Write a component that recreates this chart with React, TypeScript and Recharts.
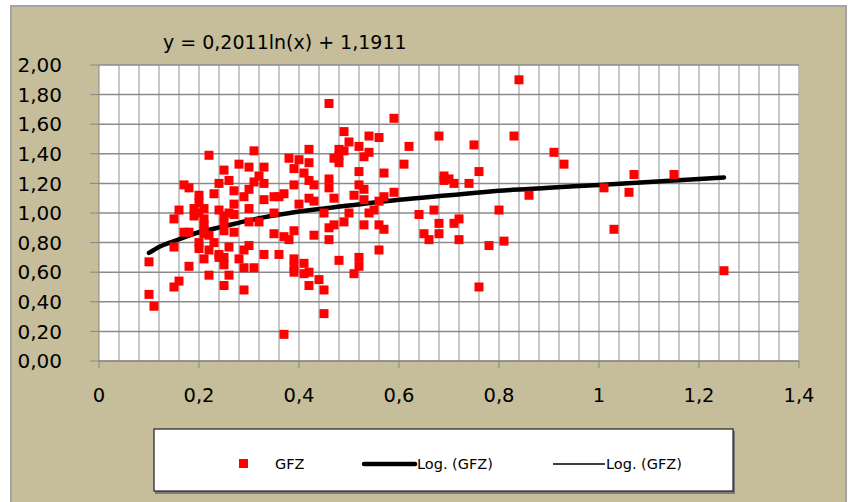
import React from 'react';
import { ComposedChart, Scatter, Line, XAxis, YAxis, CartesianGrid } from 'recharts';

const gfzX = [
  0.22, 0.31, 0.28, 0.25, 0.30, 0.33, 0.26, 0.24, 0.32, 0.33, 0.31, 0.17, 0.18, 0.23, 0.27, 0.30,
  0.29, 0.20, 0.33, 0.27, 0.16, 0.19, 0.21, 0.24, 0.30, 0.15, 0.19, 0.21, 0.25, 0.27, 0.21, 0.25,
  0.30, 0.32, 0.17, 0.18, 0.22, 0.25, 0.27, 0.35, 0.20, 0.23, 0.20, 0.22, 0.15, 0.26, 0.29, 0.30,
  0.24, 0.25, 0.21, 0.28, 0.33, 0.10, 0.18, 0.25, 0.29, 0.31, 0.22, 0.26, 0.16, 0.15, 0.25, 0.29,
  0.10, 0.11, 0.20, 0.21, 0.26, 0.20, 0.21, 0.24,
  0.46, 0.59, 0.49, 0.54, 0.56, 0.68, 0.50, 0.52, 0.62, 0.42, 0.48, 0.49, 0.53, 0.54, 0.38, 0.40,
  0.42, 0.48, 0.61, 0.39, 0.41, 0.52, 0.57, 0.46, 0.42, 0.43, 0.39, 0.46, 0.52, 0.53, 0.37, 0.36,
  0.42, 0.43, 0.47, 0.51, 0.53, 0.57, 0.59, 0.56, 0.40, 0.35, 0.45, 0.50, 0.54, 0.55, 0.64, 0.67,
  0.49, 0.47, 0.46, 0.53, 0.56, 0.57, 0.68, 0.37, 0.38, 0.39, 0.43, 0.46, 0.65, 0.66, 0.68, 0.36,
  0.56, 0.39, 0.41, 0.48, 0.52, 0.39, 0.52, 0.39, 0.41, 0.42, 0.51, 0.42, 0.44, 0.45, 0.45, 0.37,
  0.47, 0.48, 0.35,
  0.84, 0.75, 0.83, 0.91, 0.93, 0.76, 0.69, 0.70, 0.69, 0.71, 0.74, 0.86, 1.01, 0.80, 0.71, 0.72,
  0.72, 0.78, 0.81, 0.76,
  1.07, 1.15, 1.06, 1.03, 1.25,
];
const gfzY = [
  1.39, 1.42, 1.33, 1.29, 1.31, 1.31, 1.22, 1.20, 1.25, 1.20, 1.21, 1.19, 1.17, 1.13, 1.15, 1.16,
  1.11, 1.12, 1.09, 1.06, 1.02, 1.03, 1.03, 1.02, 1.03, 0.96, 0.98, 0.96, 0.98, 0.99, 0.92, 0.93,
  0.94, 0.94, 0.87, 0.87, 0.85, 0.88, 0.87, 0.86, 0.80, 0.80, 0.76, 0.75, 0.77, 0.77, 0.75, 0.78,
  0.72, 0.70, 0.69, 0.69, 0.72, 0.67, 0.64, 0.65, 0.63, 0.63, 0.58, 0.58, 0.54, 0.50, 0.51, 0.48,
  0.45, 0.37, 1.07, 0.86, 1.00, 1.00, 0.89, 0.70,
  1.74, 1.64, 1.55, 1.52, 1.51, 1.52, 1.48, 1.45, 1.45, 1.43, 1.39, 1.42, 1.38, 1.41, 1.37, 1.36,
  1.34, 1.34, 1.33, 1.30, 1.27, 1.28, 1.27, 1.23, 1.22, 1.19, 1.19, 1.17, 1.19, 1.16, 1.13, 1.11,
  1.10, 1.08, 1.10, 1.12, 1.09, 1.11, 1.14, 1.08, 1.06, 1.00, 1.00, 1.00, 1.00, 1.02, 0.99, 1.02,
  0.94, 0.92, 0.90, 0.92, 0.92, 0.89, 0.93, 0.84, 0.82, 0.88, 0.85, 0.82, 0.86, 0.82, 0.86, 0.72,
  0.75, 0.69, 0.66, 0.68, 0.70, 0.64, 0.64, 0.60, 0.59, 0.60, 0.59, 0.51, 0.55, 0.48, 0.32, 0.18,
  1.37, 1.43, 1.11,
  1.90, 1.46, 1.52, 1.41, 1.33, 1.28, 1.25, 1.23, 1.22, 1.20, 1.20, 1.12, 1.17, 1.02, 0.93, 0.96,
  0.82, 0.78, 0.81, 0.50,
  1.26, 1.26, 1.14, 0.89, 0.61,
];

// Log. (GFZ) trend line
const trendX = [0.1, 0.12, 0.15, 0.2, 0.25, 0.3, 0.4, 0.5, 0.6, 0.7, 0.8, 0.9, 1.0, 1.1, 1.25];
const trendY = [0.73, 0.77, 0.81, 0.87, 0.91, 0.95, 1.01, 1.05, 1.09, 1.12, 1.15, 1.17, 1.19, 1.21, 1.24];

const xDomain = [0, 1.4];
const xTicks = [0, 0.2, 0.4, 0.6, 0.8, 1, 1.2, 1.4];
// vertical gridlines every 0.04 (Excel minor gridlines)
const xMinorTicks = [
  0.04, 0.08, 0.12, 0.16, 0.2, 0.24, 0.28, 0.32, 0.36, 0.4, 0.44, 0.48, 0.52, 0.56, 0.6, 0.64, 0.68,
  0.72, 0.76, 0.8, 0.84, 0.88, 0.92, 0.96, 1, 1.04, 1.08, 1.12, 1.16, 1.2, 1.24, 1.28, 1.32, 1.36, 1.4,
];
const yTicks = [0, 0.2, 0.4, 0.6, 0.8, 1, 1.2, 1.4, 1.6, 1.8, 2];

const equationText = 'y = 0,2011ln(x) + 1,1911';
const seriesName = 'GFZ';
const trendName = 'Log. (GFZ)';

const points = gfzX.map((x, i) => ({ x, y: gfzY[i] }));
const trend = trendX.map((x, i) => ({ x, y: trendY[i] }));

const FONT = '"DejaVu Sans", sans-serif';
const BG = '#C6BE9A';

// chart layout
const W = 848;
const H = 502;
const margin = { top: 65, right: 49, bottom: 111, left: 0 };
const yAxisWidth = 99;
const xAxisHeight = 30;
const plotLeft = margin.left + yAxisWidth;
const plotTop = margin.top;
const plotW = W - margin.right - plotLeft;
const plotH = H - margin.bottom - xAxisHeight - plotTop;

const Square = (props: any) => {
  const { cx, cy } = props;
  if (cx == null || cy == null) return null;
  return <rect x={cx - 4.5} y={cy - 4.5} width={9} height={9} fill="#FF0000" />;
};

const App: React.FC = () => {
  return (
    <div style={{ position: 'absolute', left: 0, top: 0, width: W, height: H, background: '#fff', overflow: 'hidden' }}>
      {/* chart frame */}
      <div
        style={{
          position: 'absolute', left: 10, top: 5, width: 833, height: 500,
          background: BG, borderLeft: '2px solid #a4a4a4', borderTop: '2px solid #a4a4a4', borderRight: '2px solid #a4a4a4',
        }}
      />
      {/* plot background with minor vertical gridlines */}
      <svg width={W} height={H} style={{ position: 'absolute', left: 0, top: 0 }}>
        <rect x={plotLeft} y={plotTop} width={plotW} height={plotH} fill="#fff" />
        {xMinorTicks.map(v => {
          const x = plotLeft + ((v - xDomain[0]) / (xDomain[1] - xDomain[0])) * plotW;
          return <line key={v} x1={x} y1={plotTop} x2={x} y2={plotTop + plotH} stroke="#b4b4b4" strokeWidth={1.5} />;
        })}
      </svg>
      <div style={{ position: 'absolute', left: 0, top: 0 }}>
        <ComposedChart width={W} height={H} margin={margin}>
          <CartesianGrid horizontal vertical={false} stroke="#8a8a8a" strokeWidth={1.5} />
          <XAxis
            type="number"
            dataKey="x"
            domain={xDomain}
            ticks={xTicks}
            interval={0}
            height={xAxisHeight}
            tickSize={7}
            tickMargin={20}
            stroke="#868686"
            tick={{ fill: '#000', fontSize: 19.5, fontFamily: FONT }}
            tickFormatter={(v: number) => String(v).replace('.', ',')}
          />
          <YAxis
            type="number"
            domain={[0, 2]}
            ticks={yTicks}
            interval={0}
            width={yAxisWidth}
            tickSize={9}
            tickMargin={28}
            stroke="#868686"
            tick={{ fill: '#000', fontSize: 20, fontFamily: FONT }}
            tickFormatter={(v: number) => v.toFixed(2).replace('.', ',')}
          />
          <Scatter name={seriesName} data={points} dataKey="y" shape={Square} isAnimationActive={false} />
          <Line
            name={trendName}
            data={trend}
            dataKey="y"
            type="monotone"
            stroke="#000"
            strokeWidth={4.5}
            strokeLinecap="round"
            dot={false}
            activeDot={false}
            isAnimationActive={false}
          />
        </ComposedChart>
      </div>
      {/* trend equation and legend */}
      <svg width={W} height={H} style={{ position: 'absolute', left: 0, top: 0, pointerEvents: 'none' }}>
        <text x={163} y={49} fontSize={19} fontFamily={FONT} fill="#000">{equationText}</text>
        <rect x={155} y={431} width={580} height={63} fill="#7a7a7a" />
        <rect x={154} y={429} width={579} height={62} fill="#fff" stroke="#1e1e1e" strokeWidth={1.2} />
        <rect x={239} y={459} width={9} height={9} fill="#FF0000" />
        <text x={275} y={469} fontSize={14.5} fontFamily={FONT} fill="#000">{seriesName}</text>
        <line x1={364} y1={464} x2={415} y2={464} stroke="#000" strokeWidth={4.5} strokeLinecap="round" />
        <text x={417} y={469} fontSize={14.5} fontFamily={FONT} fill="#000">{trendName}</text>
        <line x1={553} y1={464} x2={605} y2={464} stroke="#000" strokeWidth={1.5} />
        <text x={606} y={469} fontSize={14.5} fontFamily={FONT} fill="#000">{trendName}</text>
      </svg>
    </div>
  );
};

export default App;
